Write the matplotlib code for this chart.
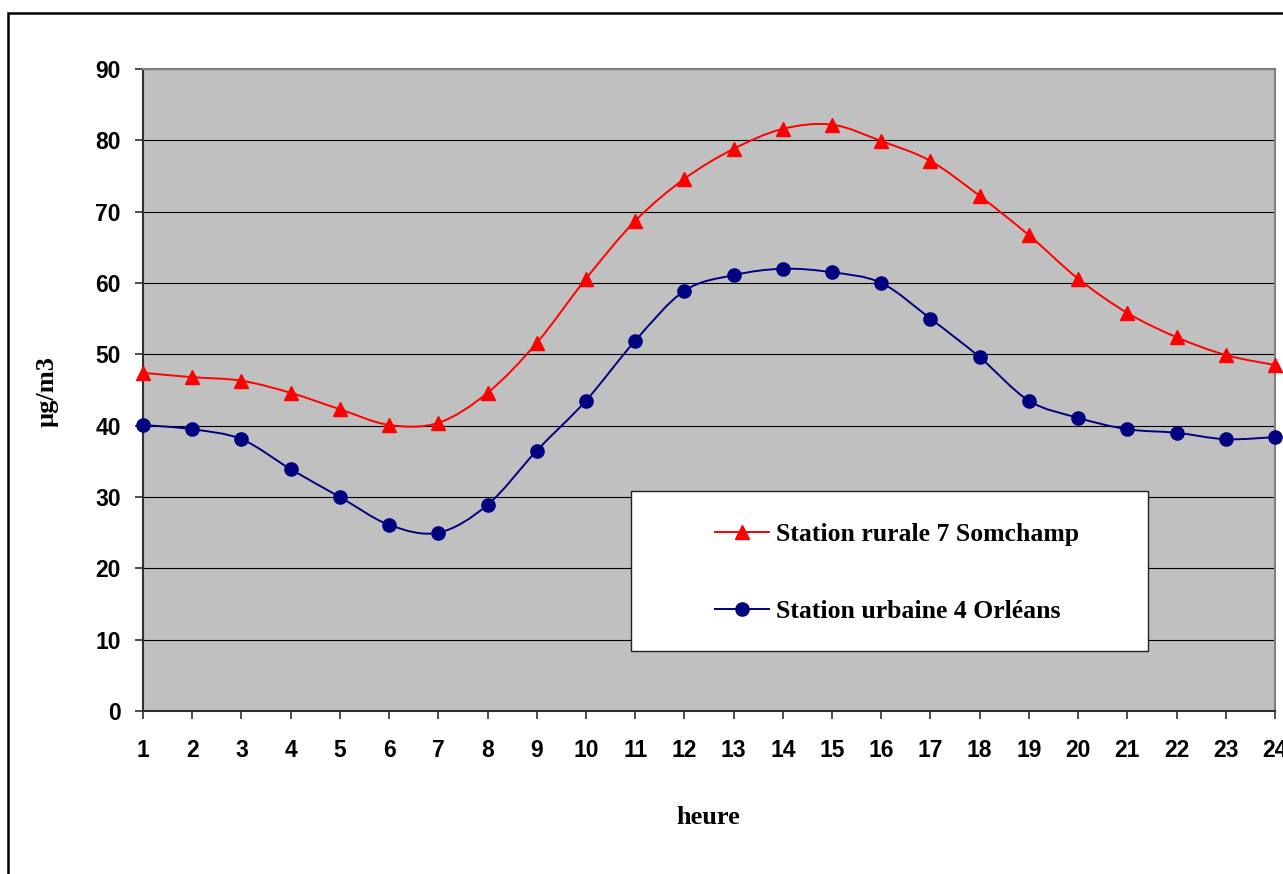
"""Profil journalier moyen d'ozone : station rurale vs station urbaine."""

import matplotlib

matplotlib.use("Agg")
import matplotlib.pyplot as plt
import numpy as np
from matplotlib.lines import Line2D
from matplotlib.patches import PathPatch, Rectangle
from matplotlib.path import Path

heures = list(range(1, 25))
rurale = [47.4, 46.8, 46.3, 44.6, 42.3, 40.1, 40.4, 44.6, 51.6, 60.6, 68.7, 74.6,
          78.8, 81.6, 82.2, 79.9, 77.1, 72.2, 66.7, 60.6, 55.8, 52.4, 49.9, 48.5]
urbaine = [40.1, 39.5, 38.1, 33.9, 30.0, 26.1, 25.0, 28.9, 36.5, 43.5, 51.9, 58.9,
           61.1, 62.0, 61.5, 60.0, 55.0, 49.6, 43.5, 41.1, 39.5, 39.0, 38.1, 38.4]
noms = ["Station rurale 7 Somchamp", "Station urbaine 4 Orléans"]
couleurs = ["#ff0000", "#000080"]
marqueurs = ["^", "o"]

W, H = 1283, 874
SERIF = ["Liberation Serif", "DejaVu Serif"]
SANS = ["Liberation Sans", "DejaVu Sans"]


def smooth_path(x, y):
    """Catmull-Rom style bezier through every point (spreadsheet 'smoothed line')."""
    pts = np.column_stack([x, y]).astype(float)
    n = len(pts)
    verts = [pts[0]]
    codes = [Path.MOVETO]
    for i in range(n - 1):
        p0 = pts[max(i - 1, 0)]
        p1, p2 = pts[i], pts[i + 1]
        p3 = pts[min(i + 2, n - 1)]
        verts += [p1 + (p2 - p0) / 6.0, p2 - (p3 - p1) / 6.0, p2]
        codes += [Path.CURVE4] * 3
    return Path(verts, codes)


fig = plt.figure(figsize=(W / 100, H / 100), dpi=100)
ax = fig.add_axes([143 / W, 1 - 711 / H, (1275 - 143) / W, (711 - 69) / H])
ax.set_facecolor("#c0c0c0")
ax.set_xlim(1, 24)
ax.set_ylim(0, 90)

ax.set_yticks(range(0, 91, 10))
ax.set_xticks(heures)
ax.yaxis.grid(True, color="black", linewidth=0.8)
ax.set_axisbelow(True)
for side in ("top", "right"):
    ax.spines[side].set_color("#808080")
    ax.spines[side].set_linewidth(1.5)
for side in ("left", "bottom"):
    ax.spines[side].set_color("#303030")
    ax.spines[side].set_linewidth(1.5)
ax.tick_params(axis="both", direction="out", length=6, width=1.2, color="#303030")
ax.tick_params(axis="y", pad=10)
ax.tick_params(axis="x", pad=14)
for lab in ax.get_xticklabels() + ax.get_yticklabels():
    lab.set_fontfamily(SANS)
    lab.set_fontweight("bold")
    lab.set_fontsize(16.5)

for vals, c, m in zip([rurale, urbaine], couleurs, marqueurs):
    ax.add_patch(PathPatch(smooth_path(heures, vals), facecolor="none",
                           edgecolor=c, linewidth=1.4, zorder=3))
    ax.plot(heures, vals, linestyle="none", marker=m, color=c,
            markersize=10 if m == "^" else 9.5, zorder=4, clip_on=False)

# cadre de la légende
box = Rectangle((631 / W, 1 - 651 / H), (1148 - 631) / W, (651 - 491) / H,
                transform=fig.transFigure, facecolor="white", edgecolor="#202020",
                linewidth=1.0, zorder=5)
fig.patches.append(box)
handles = [Line2D([], [], color=c, marker=m, linewidth=1.4,
                  markersize=10 if m == "^" else 9.5)
           for c, m in zip(couleurs, marqueurs)]
leg = fig.legend(handles, noms, loc="upper left",
                 bbox_to_anchor=(692 / W, 1 - 500 / H),
                 frameon=False, handlelength=2.1, handletextpad=0.25,
                 labelspacing=2.1,
                 prop={"family": SERIF, "weight": "bold", "size": 18.5})
leg.set_zorder(6)

fig.text(47 / W, 1 - 392 / H, "µg/m3", rotation=90, ha="center", va="center",
         family=SERIF, weight="bold", fontsize=19)
fig.text(708 / W, 1 - 818 / H, "heure", ha="center", va="center",
         family=SERIF, weight="bold", fontsize=19)

# cadre extérieur du graphique
fig.patches.append(Rectangle((8 / W, -0.05), 1.2, 1.05 - 13 / H,
                             transform=fig.transFigure, facecolor="none",
                             edgecolor="black", linewidth=1.8, clip_on=False))

fig.savefig("out.png", dpi=100)
